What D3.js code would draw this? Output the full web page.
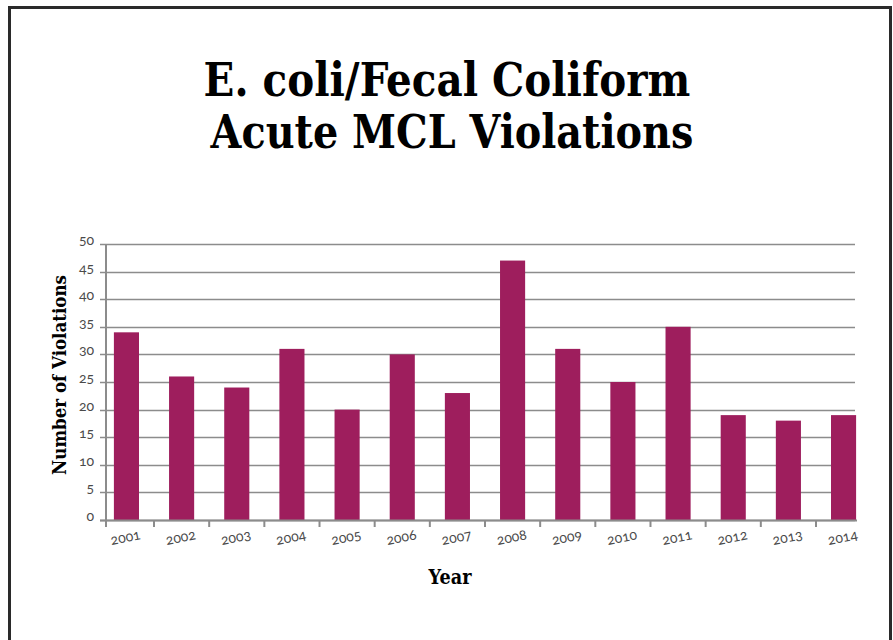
<!DOCTYPE html>
<html><head><meta charset="utf-8">
<script src="https://cdn.jsdelivr.net/npm/d3@7"></script>
<style>
html,body{margin:0;padding:0;background:#fff;}
svg{display:block;}
</style></head>
<body>
<svg id="chart" width="893" height="640"></svg>
<script>
const years = ["2001","2002","2003","2004","2005","2006","2007","2008","2009","2010","2011","2012","2013","2014"];
const violations = [34,26,24,31,20,30,23,47,31,25,35,19,18,19];
const yTicks = [0,5,10,15,20,25,30,35,40,45,50];
const titleLines = ["E. coli/Fecal Coliform", "Acute MCL Violations"];

const svg = d3.select("#chart");
const W = 893, H = 640;
svg.append("rect").attr("width", W).attr("height", H).attr("fill", "#fff");

// frame
svg.append("rect").attr("x", 9.5).attr("y", 7.5).attr("width", 881).attr("height", 660)
  .attr("fill", "none").attr("stroke", "#2a2a2a").attr("stroke-width", 3);

const serif = "'DejaVu Serif', 'Liberation Serif', serif";
const sans = "Lato, 'Open Sans', sans-serif";

// condensed bold serif text helper
function fitText(parent, txt, cx, by, size, targetW, anchorRotate) {
  const el = parent.append("text").attr("text-anchor", "middle")
    .attr("font-family", serif).attr("font-weight", "bold")
    .attr("font-size", size).attr("fill", "#000").text(txt);
  const w = el.node().getComputedTextLength();
  const s = targetW / w;
  el.attr("transform", `translate(${cx},${by})${anchorRotate ? " rotate(-90)" : ""} scale(${s},1)`);
  return el;
}

// title
fitText(svg, titleLines[0], 447, 96, 47, 487);
fitText(svg, titleLines[1], 452, 148, 47, 483);

const y = d3.scaleLinear().domain([0, 50]).range([520, 244]);
const x = d3.scaleBand().domain(years).range([99, 871]).paddingInner(0.545).paddingOuter(0.27);

// gridlines
const g = svg.append("g");
g.selectAll("line.grid").data(yTicks).join("line")
  .attr("x1", 100).attr("x2", 855)
  .attr("y1", d => Math.round(y(d)) + 0.5).attr("y2", d => Math.round(y(d)) + 0.5)
  .attr("stroke", "#8c8c8c").attr("stroke-width", 1.6);

// y labels
g.selectAll("text.yl").data(yTicks).join("text")
  .attr("x", 94).attr("y", d => y(d) + 1)
  .attr("text-anchor", "end").attr("font-family", sans).attr("font-size", 14)
  .style("font-variant-numeric", "oldstyle-nums")
  .attr("fill", "#4a4a4a").text(d => d);

// bars
svg.append("g").selectAll("rect").data(years).join("rect")
  .attr("x", d => x(d)).attr("width", x.bandwidth())
  .attr("y", (d, i) => y(violations[i])).attr("height", (d, i) => y(0) - y(violations[i]))
  .attr("fill", "#9e1e5d");

// axes lines
svg.append("line").attr("x1", 106).attr("x2", 106).attr("y1", 244).attr("y2", 527)
  .attr("stroke", "#8c8c8c").attr("stroke-width", 2);
svg.append("line").attr("x1", 100).attr("x2", 857).attr("y1", 520.5).attr("y2", 520.5)
  .attr("stroke", "#8c8c8c").attr("stroke-width", 2);

// x ticks at band boundaries
const step = x.step();
const boundaries = years.slice(1).map(d => x(d) + x.bandwidth() / 2 - step / 2);
svg.append("g").selectAll("line").data(boundaries).join("line")
  .attr("x1", d => d).attr("x2", d => d).attr("y1", 520).attr("y2", 527)
  .attr("stroke", "#8c8c8c").attr("stroke-width", 2);

// x labels
svg.append("g").selectAll("text").data(years).join("text")
  .attr("transform", d => `translate(${x(d) + x.bandwidth() / 2},${542}) rotate(-11)`)
  .attr("text-anchor", "middle").attr("font-family", sans).attr("font-size", 14)
  .style("font-variant-numeric", "oldstyle-nums")
  .attr("fill", "#4a4a4a").text(d => d);

// axis titles
fitText(svg, "Year", 450, 584, 20, 43);
fitText(svg, "Number of Violations", 66, 375, 19, 200, true);
</script>
</body></html>
